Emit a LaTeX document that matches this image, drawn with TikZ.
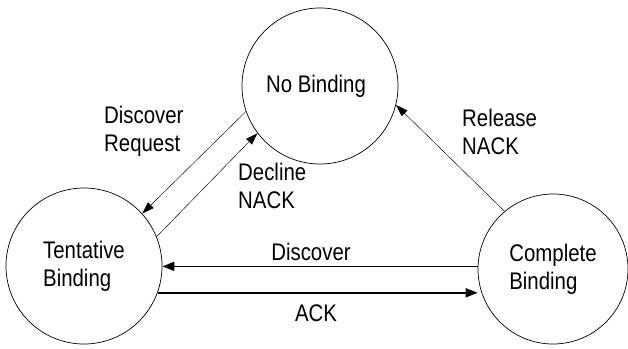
\documentclass[tikz,border=0pt]{standalone}
\usepackage{fontspec}
\setmainfont{Liberation Sans}[FakeStretch=0.85]
\usetikzlibrary{arrows.meta}

\tikzset{
    state/.style={draw, circle, line width=0.7pt, minimum size=156pt, inner sep=0pt, align=left},
    thinarrow/.style={line width=0.45pt, -{Triangle[length=12pt,width=8pt]}},
    thickarrow/.style={line width=1.7pt, -{Triangle[length=12pt,width=9pt]}},
    lbl/.style={inner sep=0pt, align=left}
}

\begin{document}
\begin{tikzpicture}[x=1pt,y=-1pt]
                \fontsize{24}{28}\selectfont
                \useasboundingbox (0,0) rectangle (628,348);
                \node[state] (nobind) at (320,86) {No Binding\hspace*{8pt}};
                \node[state] (tent) at (84,266) {Tentative\\Binding};
                \node[state, minimum size=150pt] (comp) at (553,269) {Complete\\Binding};
                \draw[thinarrow] (nobind.199) -- (tent.42);
                \draw[thinarrow] (tent.22) -- (nobind.217);
                \draw[thinarrow] (comp.130) -- (nobind.346);
                \draw[thickarrow] (comp.178) -- (comp.178 -| tent.east);
                \draw[thickarrow] (tent.340) -- (tent.340 -| comp.west);
                \node[lbl, anchor=west] (discreq) at (104,131) {Discover\\Request};
                \node[lbl, anchor=west] (declnack) at (238,186) {Decline\\NACK};
                \node[lbl, anchor=west] (relnack) at (462,132) {Release\\NACK};
                \node[lbl] (disc) at (311,252) {Discover};
                \node[lbl] (ack) at (316,313) {ACK};
            \end{tikzpicture}
\end{document}
